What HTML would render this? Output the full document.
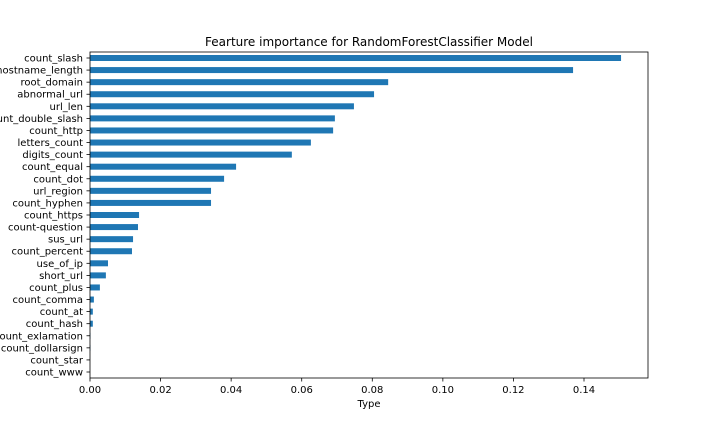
<!DOCTYPE html>
<html><head><meta charset="utf-8"><style>
body{margin:0;background:#fff;}
svg{font-family:"DejaVu Sans","Liberation Sans",sans-serif;}
</style></head><body>
<svg id="chart" width="720" height="432" xmlns="http://www.w3.org/2000/svg">
<text x="369" y="46" font-size="12" text-anchor="middle">Fearture importance for RandomForestClassifier Model</text>
<text x="369" y="407" font-size="10" text-anchor="middle">Type</text>
<g id="bars"></g><g id="ticks"></g>
<rect x="90" y="52" width="558" height="326" fill="none" stroke="#000" stroke-width="0.8"/>
</svg>
<script>
const categories=["count_slash","hostname_length","root_domain","abnormal_url","url_len","count_double_slash","count_http","letters_count","digits_count","count_equal","count_dot","url_region","count_hyphen","count_https","count-question","sus_url","count_percent","use_of_ip","short_url","count_plus","count_comma","count_at","count_hash","count_exlamation","count_dollarsign","count_star","count_www"];
const importance=[0.1505,0.1369,0.0845,0.0805,0.0748,0.0694,0.0689,0.0626,0.0572,0.0414,0.038,0.0343,0.0343,0.0139,0.0136,0.0122,0.0119,0.0051,0.0045,0.0028,0.0011,0.0008,0.0008,0.0001,0.0001,0,0];
const xTicks=[0,0.02,0.04,0.06,0.08,0.10,0.12,0.14];
const xTickLabels=["0.00","0.02","0.04","0.06","0.08","0.10","0.12","0.14"];
const NS="http://www.w3.org/2000/svg";
const x0=90,xPer=(584-90)/0.14;
const xs=v=>x0+v*xPer;
const yTop=58,step=(372-58)/(categories.length-1);
const ys=i=>yTop+i*step;
const bars=document.getElementById('bars'),ticks=document.getElementById('ticks');
categories.forEach((c,i)=>{
  const r=document.createElementNS(NS,'rect');
  
  
  r.setAttribute('x',x0);r.setAttribute('y',ys(i)-3);
  r.setAttribute('width',Math.max(0,xs(importance[i])-x0));r.setAttribute('height',6);
  r.setAttribute('fill','#1f77b4');bars.appendChild(r);
  const l=document.createElementNS(NS,'line');
  
  
  l.setAttribute('x1',86.5);l.setAttribute('x2',90);l.setAttribute('y1',ys(i));l.setAttribute('y2',ys(i));
  l.setAttribute('stroke','#000');l.setAttribute('stroke-width','0.8');ticks.appendChild(l);
  const t=document.createElementNS(NS,'text');
  
  
  t.setAttribute('x',83);t.setAttribute('y',ys(i)+3.5);t.setAttribute('font-size','10');
  t.setAttribute('text-anchor','end');t.textContent=c;ticks.appendChild(t);
});
xTicks.forEach((v,i)=>{
  const l=document.createElementNS(NS,'line');
  
  
  l.setAttribute('x1',xs(v));l.setAttribute('x2',xs(v));l.setAttribute('y1',378);l.setAttribute('y2',381.5);
  l.setAttribute('stroke','#000');l.setAttribute('stroke-width','0.8');ticks.appendChild(l);
  const t=document.createElementNS(NS,'text');
  
  
  t.setAttribute('x',xs(v));t.setAttribute('y',393);t.setAttribute('font-size','10');
  t.setAttribute('text-anchor','middle');t.textContent=xTickLabels[i];ticks.appendChild(t);
});
</script>
</body></html>
